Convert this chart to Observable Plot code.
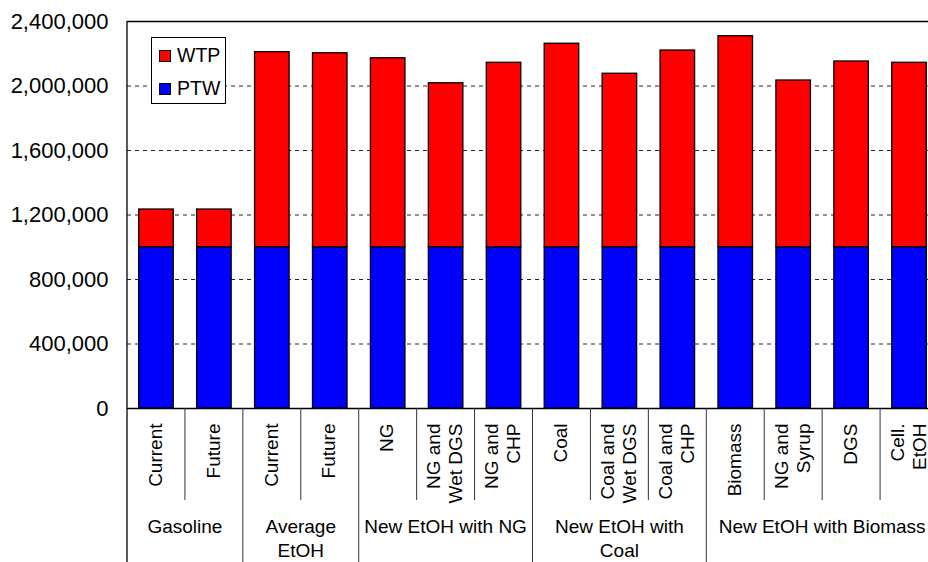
<!DOCTYPE html>
<html>
<head>
<meta charset="utf-8">
<script src="https://cdn.jsdelivr.net/npm/d3@7"></script>
<script src="https://cdn.jsdelivr.net/npm/@observablehq/plot@0.6"></script>
<style>
  html, body { margin: 0; padding: 0; background: #fff; overflow: hidden; }
  #wrap { position: relative; width: 928px; height: 562px; overflow: hidden; font-family: "Liberation Sans", Arial, sans-serif; }
  #chart svg { max-width: none !important; height: 562px !important; }
  #legend { position: absolute; left: 151px; top: 37px; }
</style>
</head>
<body>
<div id="wrap"><div id="chart"></div><div id="legend"></div></div>
<script>
// ---- data ----
const groupNames = ["Gasoline", "Average\nEtOH", "New EtOH with NG", "New EtOH with\nCoal", "New EtOH with Biomass"];
const categoryGroup = [0, 0, 1, 1, 2, 2, 2, 3, 3, 3, 4, 4, 4, 4];
const categoryLabels = ["Current", "Future", "Current", "Future", "NG", "NG and\nWet DGS", "NG and\nCHP",
  "Coal", "Coal and\nWet DGS", "Coal and\nCHP", "Biomass", "NG and\nSyrup", "DGS", "Cell.\nEtOH"];
const ptwValues = [1000000, 1000000, 1000000, 1000000, 1000000, 1000000, 1000000,
  1000000, 1000000, 1000000, 1000000, 1000000, 1000000, 1000000];
const wtpValues = [234000, 234000, 1210000, 1203000, 1172000, 1017000, 1144000,
  1262000, 1076000, 1220000, 1309000, 1034000, 1152000, 1144000];
const seriesNames = ["WTP", "PTW"];
const seriesColors = ["#ff0000", "#0000ff"];
const yTicks = [0, 400000, 800000, 1200000, 1600000, 2000000, 2400000];

// ---- derived tables ----
const keys = categoryLabels.map((_, i) => i);
const rows = keys.flatMap(i => [
  {key: i, series: "PTW", value: ptwValues[i]},
  {key: i, series: "WTP", value: wtpValues[i]}
]);
const labelRows = keys.map(i => ({key: i, label: categoryLabels[i]}));

// hierarchical axis separators + group labels, placed with the x scale
function hierarchy(index, scales, values, dims) {
  const x = scales.x;
  const bw = x.bandwidth ? x.bandwidth() : 0;
  const top = dims.marginTop;
  const bottom = dims.height - dims.marginBottom;
  const g = d3.create("svg:g");
  g.append("line")
    .attr("x1", dims.marginLeft).attr("x2", dims.marginLeft)
    .attr("y1", top).attr("y2", dims.height)
    .attr("stroke", "#000").attr("stroke-width", 1.3);
  keys.forEach(i => {
    if (i === 0) return;
    const left = x(i);
    const groupStart = categoryGroup[i] !== categoryGroup[i - 1];
    g.append("line")
      .attr("x1", left).attr("x2", left)
      .attr("y1", bottom).attr("y2", groupStart ? dims.height : bottom + 92)
      .attr("stroke", "#333").attr("stroke-width", 1);
  });
  groupNames.forEach((name, gi) => {
    const members = keys.filter(i => categoryGroup[i] === gi);
    const first = members[0], last = members[members.length - 1];
    const cx = (x(first) + x(last) + bw) / 2;
    const t = g.append("text")
      .attr("x", cx).attr("y", bottom + 125)
      .attr("text-anchor", "middle")
      .attr("font-size", 19)
      .attr("fill", "#000");
    name.split("\n").forEach((line, li) => {
      t.append("tspan").attr("x", cx).attr("dy", li === 0 ? 0 : 24).text(line);
    });
  });
  return g.node();
}

const chart = Plot.plot({
  width: 938,
  height: 562,
  marginLeft: 127,
  marginRight: 0,
  marginTop: 21,
  marginBottom: 154,
  style: {fontFamily: "'Liberation Sans', Arial, sans-serif", background: "white", color: "black", overflow: "visible"},
  x: {type: "band", domain: keys, padding: 0, round: false, axis: null},
  y: {domain: [0, 2400000], axis: null},
  color: {domain: seriesNames, range: seriesColors},
  marks: [
    Plot.gridY(yTicks.slice(1, -1), {stroke: "#222", strokeOpacity: 1, strokeDasharray: "4,4"}),
    Plot.barY(rows, {x: "key", y: "value", fill: "series", stroke: "#000", strokeWidth: 1.3, insetLeft: 11.7, insetRight: 11.7}),
    Plot.ruleY([0, 2400000], {stroke: "#000", strokeWidth: 1.3}),
    Plot.axisY(yTicks, {anchor: "left", label: null, tickFormat: d3.format(","), tickSize: 0, tickPadding: 19, fontSize: 22, fill: "#000"}),
    Plot.text(labelRows, {x: "key", text: "label", frameAnchor: "bottom", dx: -2, dy: 15, rotate: -90,
      textAnchor: "end", lineAnchor: "middle", fontSize: 19, lineHeight: 1.18, fill: "#000"}),
    hierarchy
  ]
});
document.getElementById("chart").appendChild(chart);

// legend (inside the plot area, top-left)
const lg = d3.select("#legend").append("svg").attr("width", 76).attr("height", 68);
lg.append("rect").attr("x", 0.5).attr("y", 0.5).attr("width", 74).attr("height", 66)
  .attr("fill", "#fff").attr("stroke", "#000").attr("stroke-width", 1);
seriesNames.forEach((s, i) => {
  lg.append("rect").attr("x", 8.5).attr("y", 13.5 + i * 33).attr("width", 11).attr("height", 11)
    .attr("fill", seriesColors[i]).attr("stroke", "#000").attr("stroke-width", 1);
  lg.append("text").attr("x", 26).attr("y", 24.5 + i * 33).attr("font-size", 19.5)
    .attr("font-family", "'Liberation Sans', Arial, sans-serif").attr("fill", "#000").text(s);
});
</script>
</body>
</html>
